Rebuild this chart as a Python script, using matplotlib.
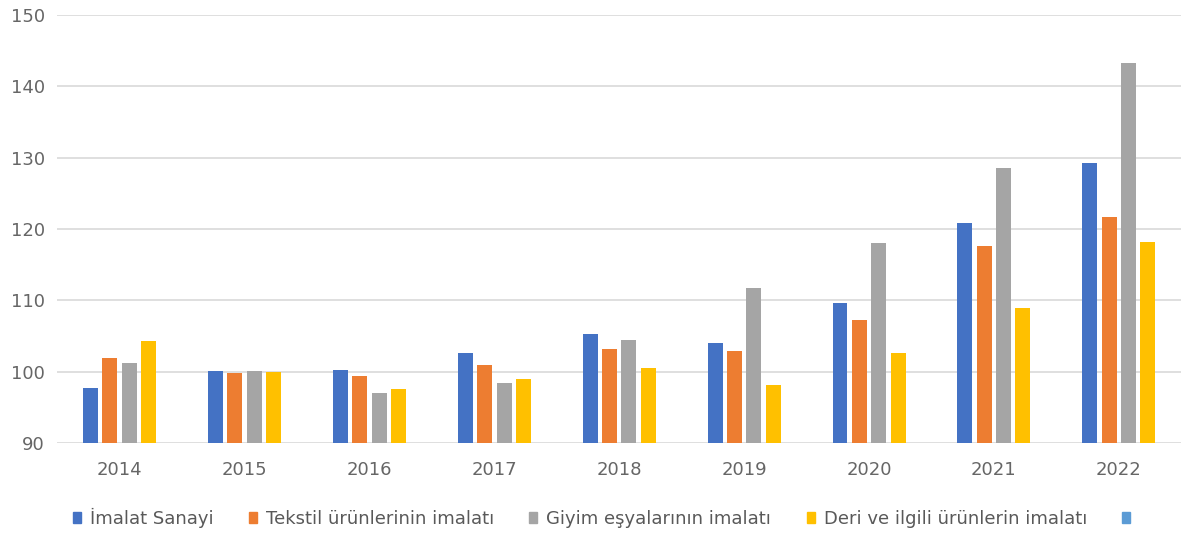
import numpy as np
import matplotlib
matplotlib.use("Agg")
import matplotlib.pyplot as plt
from matplotlib.patches import Patch

plt.rcParams["font.family"] = ["DejaVu Sans"]

# 資料
years = ["2014", "2015", "2016", "2017", "2018", "2019", "2020", "2021", "2022"]
imalat = [97.7, 100.1, 100.2, 102.7, 105.3, 104.0, 109.6, 120.9, 129.2]
tekstil = [101.9, 99.9, 99.4, 100.9, 103.2, 102.9, 107.2, 117.6, 121.7]
giyim = [101.3, 100.1, 97.0, 98.5, 104.4, 111.7, 118.0, 128.5, 143.2]
deri = [104.3, 100.0, 97.6, 99.0, 100.5, 98.1, 102.6, 108.9, 118.2]

series = [
    ("İmalat Sanayi", imalat, "#4472C4"),
    ("Tekstil ürünlerinin imalatı", tekstil, "#ED7D31"),
    ("Giyim eşyalarının imalatı", giyim, "#A5A5A5"),
    ("Deri ve ilgili ürünlerin imalatı", deri, "#FFC000"),
]

fig = plt.figure(figsize=(11.92, 5.34), dpi=100)
ax = fig.add_axes([0.048, 0.170, 0.943, 0.802])

x = np.arange(len(years))
width = 0.12
step = 0.155
base = 90
for i, (name, vals, color) in enumerate(series):
    offs = (i - 1.5) * step
    ax.bar(x + offs, np.array(vals) - base, width, bottom=base, color=color, label=name, zorder=3)

ax.set_xlim(-0.5, len(years) - 0.5)
ax.set_ylim(90, 150)
ax.set_yticks(range(90, 151, 10))
ax.set_xticks(x)
ax.set_xticklabels(years)
ax.grid(axis="y", color="#D9D9D9", linewidth=1.2, zorder=0)
for s in ax.spines.values():
    s.set_visible(False)
ax.tick_params(axis="both", length=0, labelsize=13, labelcolor="#666666")
ax.tick_params(axis="x", pad=13)
ax.tick_params(axis="y", pad=9)

handles = [Patch(color=c, label=n) for n, _, c in series]
handles.append(Patch(color="#5B9BD5", label=""))
fig.legend(handles=handles, loc="center left", bbox_to_anchor=(0.061, 0.03), ncol=5,
           frameon=False, fontsize=13, handlelength=0.45, handleheight=0.55,
           handletextpad=0.5, columnspacing=1.95, borderpad=0, borderaxespad=0,
           labelcolor="#595959")

fig.savefig("out.png", dpi=100)
